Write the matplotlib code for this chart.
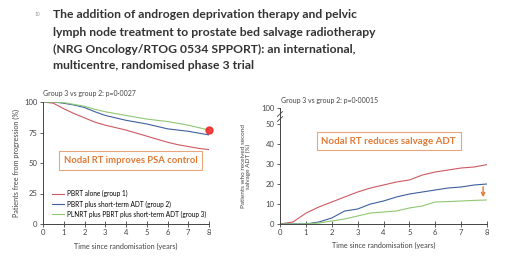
import matplotlib
matplotlib.use("Agg")
import matplotlib.pyplot as plt

plt.rcParams['font.family'] = ['Lato', 'DejaVu Sans']

# Datos
anios = [0, 0.5, 1, 1.5, 2, 2.5, 3, 3.5, 4, 4.5, 5, 5.5, 6, 6.5, 7, 7.5, 8]

# Panel izquierdo: libres de progresión (%)
psa_g1 = [100, 99, 94.5, 90.5, 87, 83.5, 81, 79, 77, 74.5, 72, 69.5, 67, 65, 63.5, 62, 61]
psa_g2 = [100, 100, 99, 97.5, 95.5, 92, 89, 87, 85, 83.5, 82, 80, 78, 77, 76, 74.5, 73]
psa_g3 = [100, 100, 99.5, 98, 96.5, 94, 92, 90.5, 89, 87.5, 86, 85, 84, 82.5, 81, 79, 77]

# Panel derecho: segundo ADT de rescate (%)
adt_g1 = [0, 1, 5.4, 8.5, 11, 13.5, 16, 18, 19.5, 21, 22, 24.5, 26, 27, 28, 28.5, 29.7]
adt_g2 = [0, 0, 0, 1, 3, 6.5, 7.5, 10, 11.5, 13.5, 15, 16, 17, 18, 18.5, 19.5, 20]
adt_g3 = [0, 0, 0, 0.5, 1.5, 2.5, 4, 5.5, 6, 6.5, 8, 9, 11, 11.2, 11.5, 11.8, 12]

etiquetas = ["PBRT alone (group 1)",
             "PBRT plus short-term ADT (group 2)",
             "PLNRT plus PBRT plus short-term ADT (group 3)"]
colores = ["#cc5a62", "#3f5f9f", "#8fc873"]
naranja = "#e07a35"

ticks_x = [0, 1, 2, 3, 4, 5, 6, 7, 8]
ticks_izq = [0, 25, 50, 75, 100]
ticks_der = [0, 10, 20, 30, 40, 50, 58]
labels_der = ["0", "10", "20", "30", "40", "50", "100"]

fig = plt.figure(figsize=(5.22, 2.65), dpi=100)

# Título
titulo = ["The addition of androgen deprivation therapy and pelvic",
          "lymph node treatment to prostate bed salvage radiotherapy",
          "(NRG Oncology/RTOG 0534 SPPORT): an international,",
          "multicentre, randomised phase 3 trial"]
for i, linea in enumerate(titulo):
    fig.text(53/522, 1 - (15 + i*17)/265, linea, fontsize=8.7, fontweight='bold',
             color='#333333', va='center', ha='left')
fig.text(35/522, 1 - 15/265, "10", fontsize=3.5, color='#999999', va='center')

def estilo(ax):
    for s in ['top', 'right']:
        ax.spines[s].set_visible(False)
    for s in ['left', 'bottom']:
        ax.spines[s].set_color('#444444')
        ax.spines[s].set_linewidth(0.7)
    ax.tick_params(labelsize=5.5, length=2.5, width=0.6, colors='#444444', pad=1.5)
    ax.tick_params(axis='x', direction='inout', length=4)
    ax.set_xticks(ticks_x)
    ax.set_xlim(0, 8)

# Panel izquierdo
ax1 = fig.add_axes([43/522, 1 - 224/265, 166/522, 122/265])
estilo(ax1)
for serie, c, lab in zip([psa_g1, psa_g2, psa_g3], colores, etiquetas):
    ax1.plot(anios, serie, color=c, lw=0.8, label=lab)
ax1.set_ylim(0, 100)
ax1.set_yticks(ticks_izq)
ax1.set_ylabel("Patients free from progression (%)", fontsize=5.2, color='#444444', labelpad=3)
ax1.set_xlabel("Time since randomisation (years)", fontsize=5.2, color='#444444', labelpad=5)
ax1.legend(loc='lower left', bbox_to_anchor=(0.04, 0.03), fontsize=4.7, frameon=False,
           handlelength=1.8, handletextpad=0.5, labelspacing=0.45, borderaxespad=0)
ax1.plot([8], [psa_g3[-1]], 'o', color='#ee2222', ms=5, clip_on=False, alpha=0.85)
ax1.annotate("", xy=(8.05, 70), xytext=(8.05, 76),
             arrowprops=dict(arrowstyle='->', color=naranja, lw=0.8, mutation_scale=4))
ax1.text(0, 104, "Group 3 vs group 2: p=0·0027", fontsize=5, color='#444444', va='bottom')
ax1.text(1.0, 52, "Nodal RT improves PSA control", fontsize=6.8, fontweight='bold',
         color=naranja, va='center', ha='left',
         bbox=dict(boxstyle='square,pad=0.5', fc='white', ec='#e9a57c', lw=0.8))

# Panel derecho
ax2 = fig.add_axes([280/522, 1 - 224/265, 207/522, 116/265])
estilo(ax2)
for serie, c in zip([adt_g1, adt_g2, adt_g3], colores):
    ax2.plot(anios, serie, color=c, lw=0.8)
ax2.set_ylim(0, 58)
ax2.set_yticks(ticks_der)
ax2.set_yticklabels(labels_der)
ax2.spines['left'].set_bounds(0, 58)
# marcas de corte del eje
for yb in [52.5, 55]:
    ax2.plot([-0.1, 0.1], [yb - 1.2, yb + 1.2], color='#444444', lw=0.6, clip_on=False)
ax2.set_ylabel("Patients who received second\nsalvage ADT (%)", fontsize=4.6,
               color='#444444', labelpad=7, linespacing=1.1)
ax2.set_xlabel("Time since randomisation (years)", fontsize=5.2, color='#444444', labelpad=4)
ax2.text(0.05, 60, "Group 3 vs group 2: p=0·00015", fontsize=5, color='#444444', va='bottom')
ax2.text(1.6, 41.5, "Nodal RT reduces salvage ADT", fontsize=7, fontweight='bold',
         color=naranja, va='center', ha='left',
         bbox=dict(boxstyle='square,pad=0.5', fc='white', ec='#e9a57c', lw=0.8))
ax2.annotate("", xy=(7.85, adt_g3[-1]), xytext=(7.85, adt_g2[-1]),
             arrowprops=dict(arrowstyle='->', color=naranja, lw=1.0, mutation_scale=6))

fig.savefig("out.png", dpi=100)
